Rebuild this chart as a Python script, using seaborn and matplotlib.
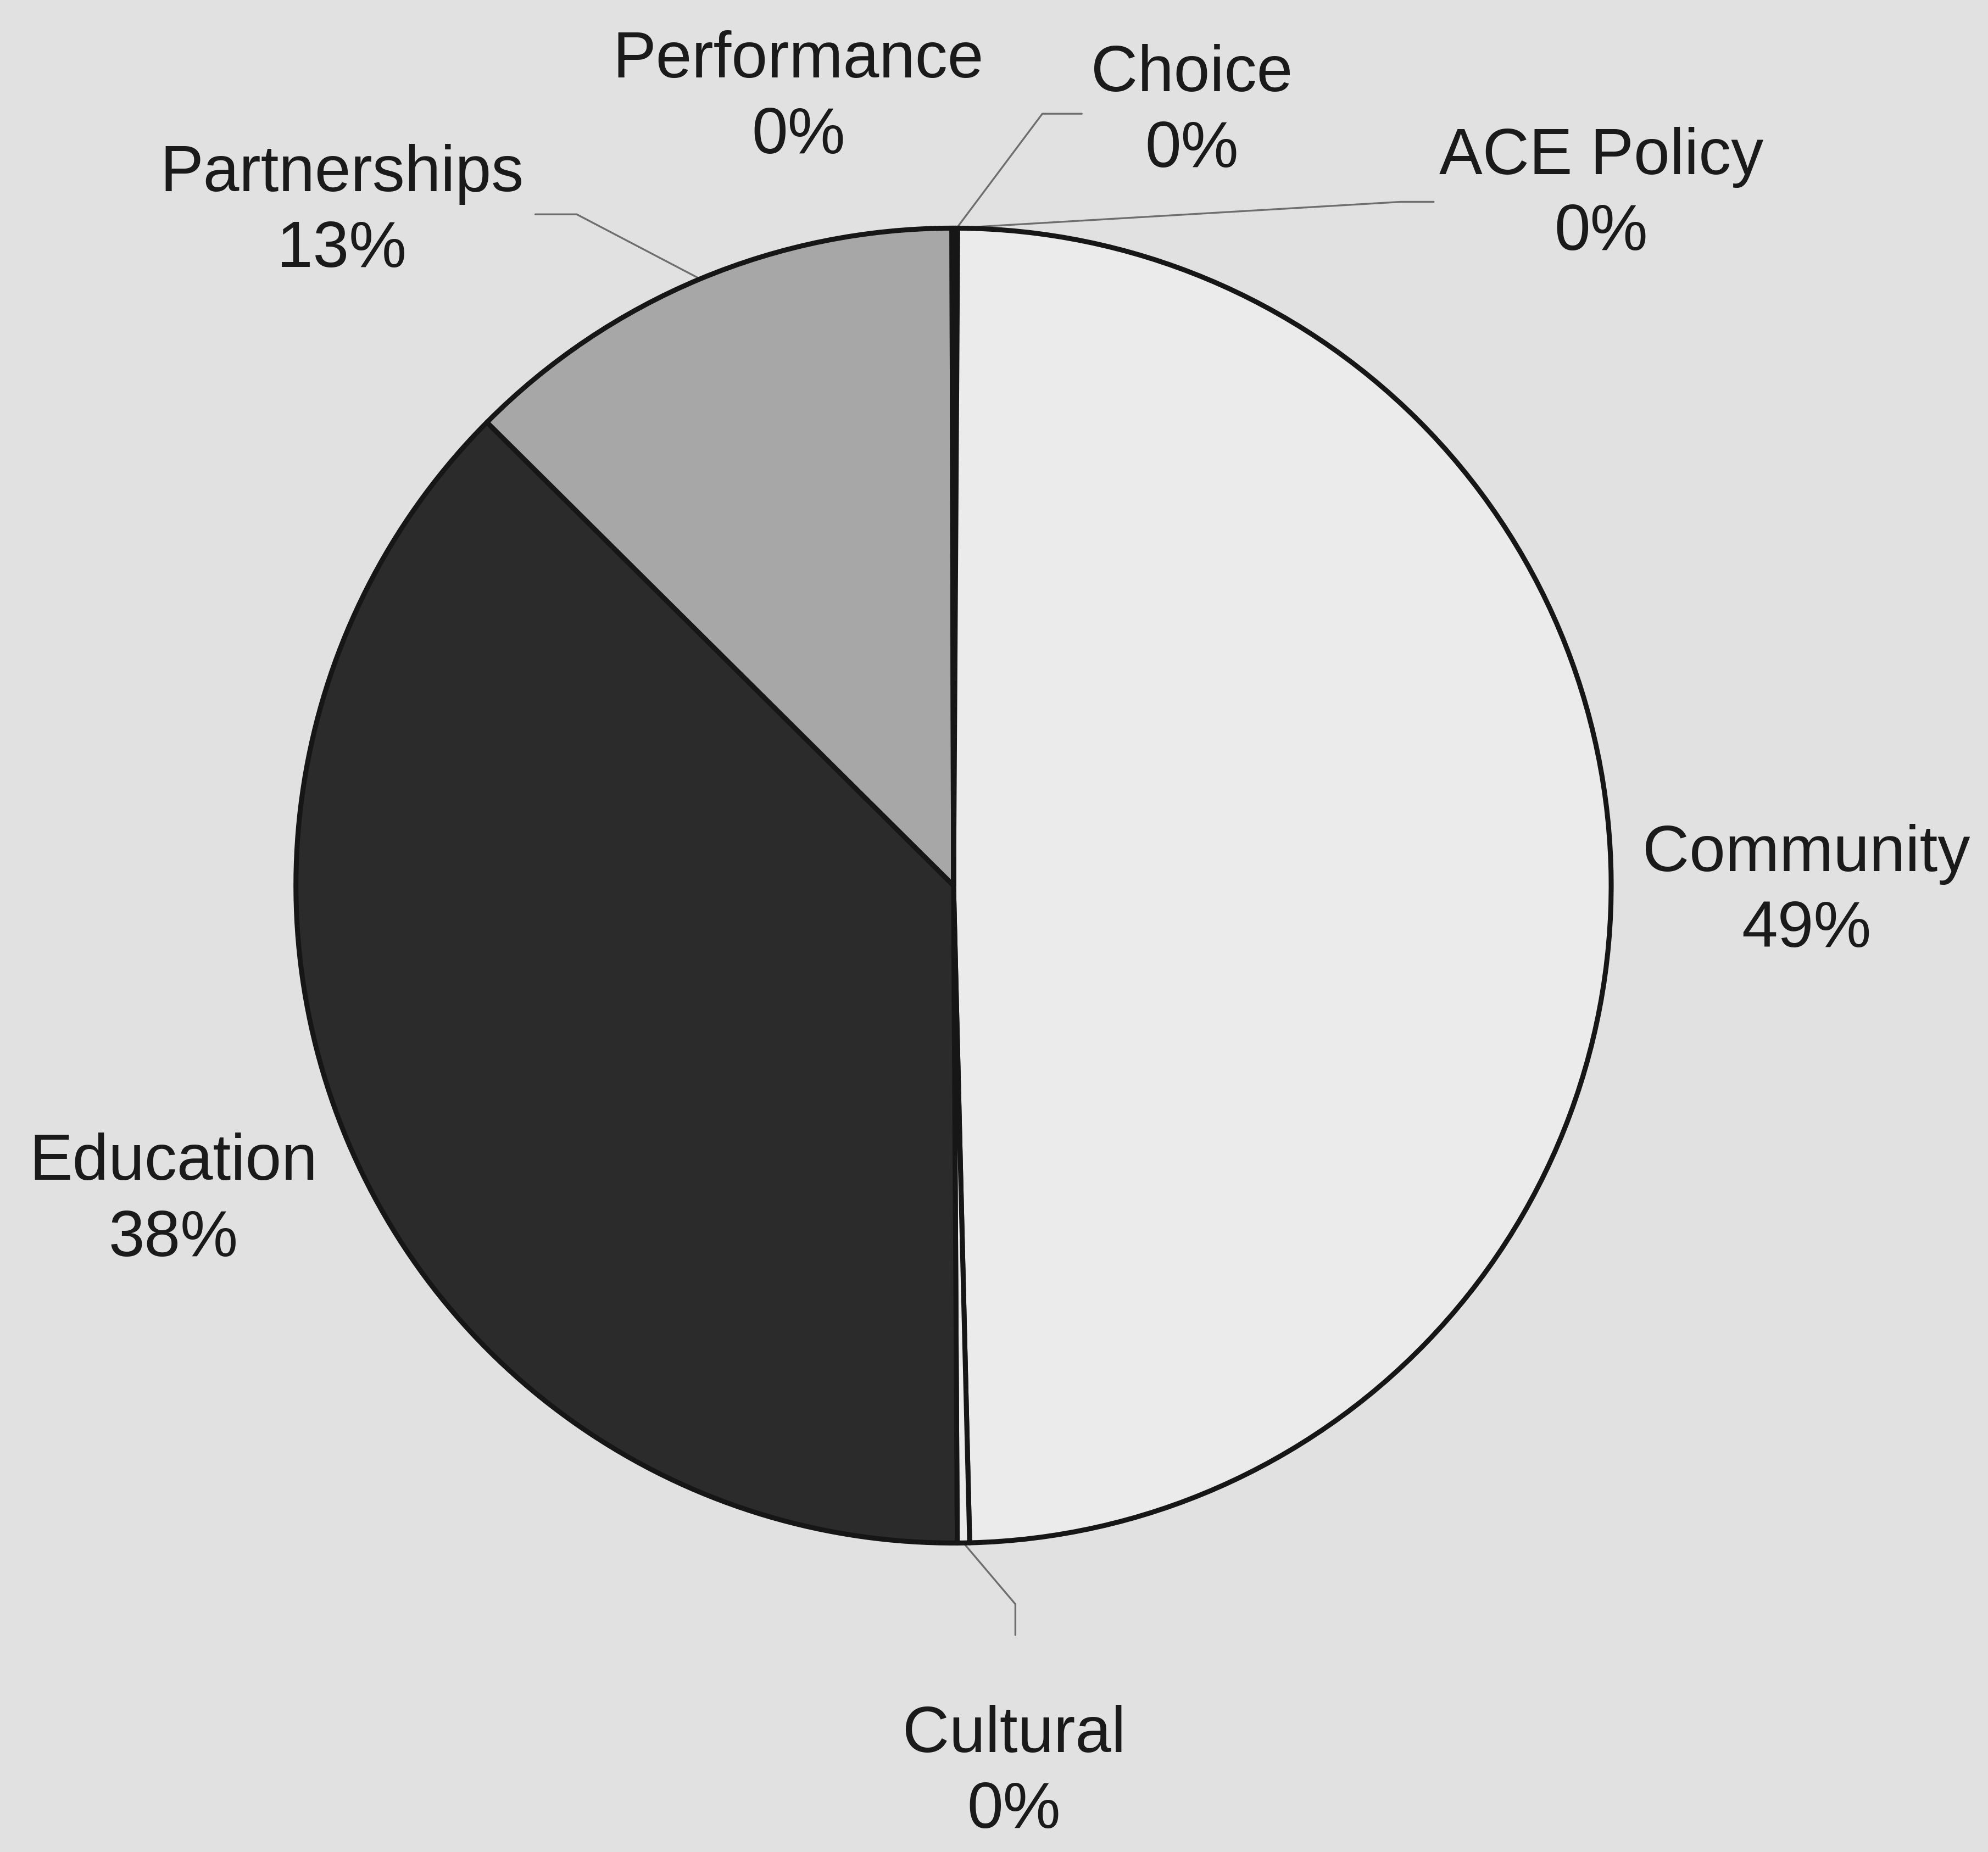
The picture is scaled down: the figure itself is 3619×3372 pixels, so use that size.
import numpy as np
import matplotlib
matplotlib.use("Agg")
import matplotlib.pyplot as plt
import seaborn as sns

# slices, clockwise from 12 o'clock (alphabetical, as in the source sheet)
categories = ["ACE Policy", "Choice", "Community", "Cultural",
              "Education", "Partnerships", "Performance"]
shares = [0.05, 0.05, 49.49, 0.3, 37.52, 12.51, 0.04]

# ──────────────────────────────────────────────────────────────
# Layout (data units, pie radius = 1)
# ──────────────────────────────────────────────────────────────
label_pos = {
    "ACE Policy":   (0.985, 1.050),
    "Choice":       (0.362, 1.176),
    "Community":    (1.297, -0.010),
    "Cultural":     (0.092, -1.350),
    "Education":    (-1.186, -0.480),
    "Partnerships": (-0.930, 1.024),
    "Performance":  (-0.236, 1.197),
}
# elbow + end of each leader line (start is on the wedge rim)
leaders = {
    "ACE Policy":   [(0.68, 1.040), (0.730, 1.040)],
    "Choice":       [(0.135, 1.174), (0.195, 1.174)],
    "Cultural":     [(0.094, -1.093), (0.094, -1.140)],
    "Partnerships": [(-0.573, 1.021), (-0.636, 1.021)],
}
fills = {
    "ACE Policy":   "#ebebeb",
    "Choice":       "#ebebeb",
    "Community":    "#ebebeb",
    "Cultural":     "#ebebeb",
    "Education":    "#2b2b2b",
    "Partnerships": "#a7a7a7",
    "Performance":  "#a7a7a7",
}
BG = "#e1e1e1"

sns.set_theme(style="white")
plt.rcParams["font.family"] = ["Liberation Sans", "DejaVu Sans"]

fig = plt.figure(figsize=(36.19, 33.72), dpi=100, facecolor=BG)
ax = fig.add_axes([0, 0, 1, 1])
ax.set_facecolor(BG)

wedges, _ = ax.pie(
    shares, colors=[fills[c] for c in categories],
    startangle=90, counterclock=False, radius=1.0,
    wedgeprops=dict(edgecolor="#161616", linewidth=6.5, joinstyle="round"),
)

for w, name, val in zip(wedges, categories, shares):
    if name in leaders:
        mid = np.deg2rad((w.theta1 + w.theta2) / 2)
        pts = [(np.cos(mid), np.sin(mid))] + leaders[name]
        xs, ys = zip(*pts)
        ax.plot(xs, ys, color="#6e6e6e", lw=2.4, solid_joinstyle="round",
                zorder=0.5)
    x, y = label_pos[name]
    ax.text(x, y, f"{name}\n{val:.0f}%", ha="center", va="center",
            fontsize=85, color="#1a1a1a", linespacing=1.32)

ax.set_xlim(-1.450, 1.573)
ax.set_ylim(-1.470, 1.347)
ax.set_aspect("auto")
ax.axis("off")

plt.savefig("out.png", dpi=100, facecolor=BG)
plt.close()
